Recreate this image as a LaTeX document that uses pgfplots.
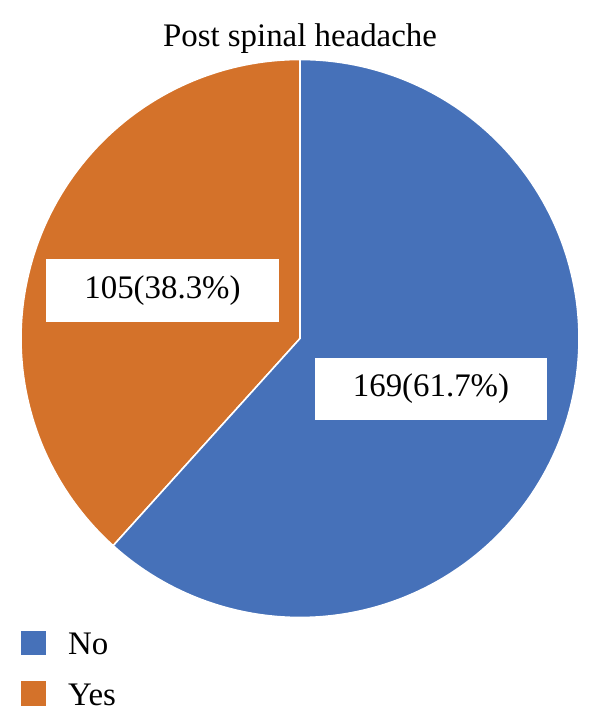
\documentclass[border=0pt]{standalone}
\usepackage{pgfplots}
\pgfplotsset{compat=1.18}
\usepackage{pgfplotstable}
\usepackage{fontspec}
\setmainfont{Liberation Serif}
\definecolor{pieblue}{RGB}{70,113,185}
\definecolor{pieorange}{RGB}{212,114,42}
\pgfplotstableread{
label count
No 169
Yes 105
}\piedata
\pgfplotstablegetelem{0}{count}\of\piedata \let\nNo\pgfplotsretval
\pgfplotstablegetelem{1}{count}\of\piedata \let\nYes\pgfplotsretval
\pgfmathsetmacro\total{\nNo+\nYes}
\pgfmathsetmacro\fracYes{\nYes/\total}
\pgfmathsetmacro\angSplit{90+360*\fracYes}
\pgfmathsetmacro\angEnd{450}
\begin{document}
\begin{tikzpicture}
\begin{axis}[
  width=600bp, height=728bp, scale only axis,
  xmin=0, xmax=600, ymin=0, ymax=728,
  axis lines=none, clip=false,
]
\path[use as bounding box] (axis cs:0,0) rectangle (axis cs:600,728);
% Yes slice
\addplot[fill=pieorange, draw=white, line width=1.6bp, domain=90:\angSplit, samples=200]
  ({300+279*cos(x)},{389.5+279*sin(x)}) -- (axis cs:300,389.5) -- cycle;
% No slice
\addplot[fill=pieblue, draw=white, line width=1.6bp, domain=\angSplit:\angEnd, samples=300]
  ({300+279*cos(x)},{389.5+279*sin(x)}) -- (axis cs:300,389.5) -- cycle;
% labels
\node[fill=white, minimum width=233bp, minimum height=63bp, inner sep=0pt,
  font=\fontsize{33}{38}\selectfont] at (axis cs:162.5,437.5) {105(38.3\%)};
\node[fill=white, minimum width=232bp, minimum height=62bp, inner sep=0pt,
  font=\fontsize{33}{38}\selectfont] at (axis cs:431,339) {169(61.7\%)};
% title
\node[anchor=base, font=\fontsize{33}{38}\selectfont] at (axis cs:300,681) {Post spinal headache};
% legend
\fill[pieblue] (axis cs:21,73) rectangle (axis cs:46,97);
\node[anchor=base west, inner sep=0pt, font=\fontsize{33}{38}\selectfont] at (axis cs:68,73) {No};
\fill[pieorange] (axis cs:21,22) rectangle (axis cs:46,47);
\node[anchor=base west, inner sep=0pt, font=\fontsize{33}{38}\selectfont] at (axis cs:68,23) {Yes};
\end{axis}
\end{tikzpicture}
\end{document}
